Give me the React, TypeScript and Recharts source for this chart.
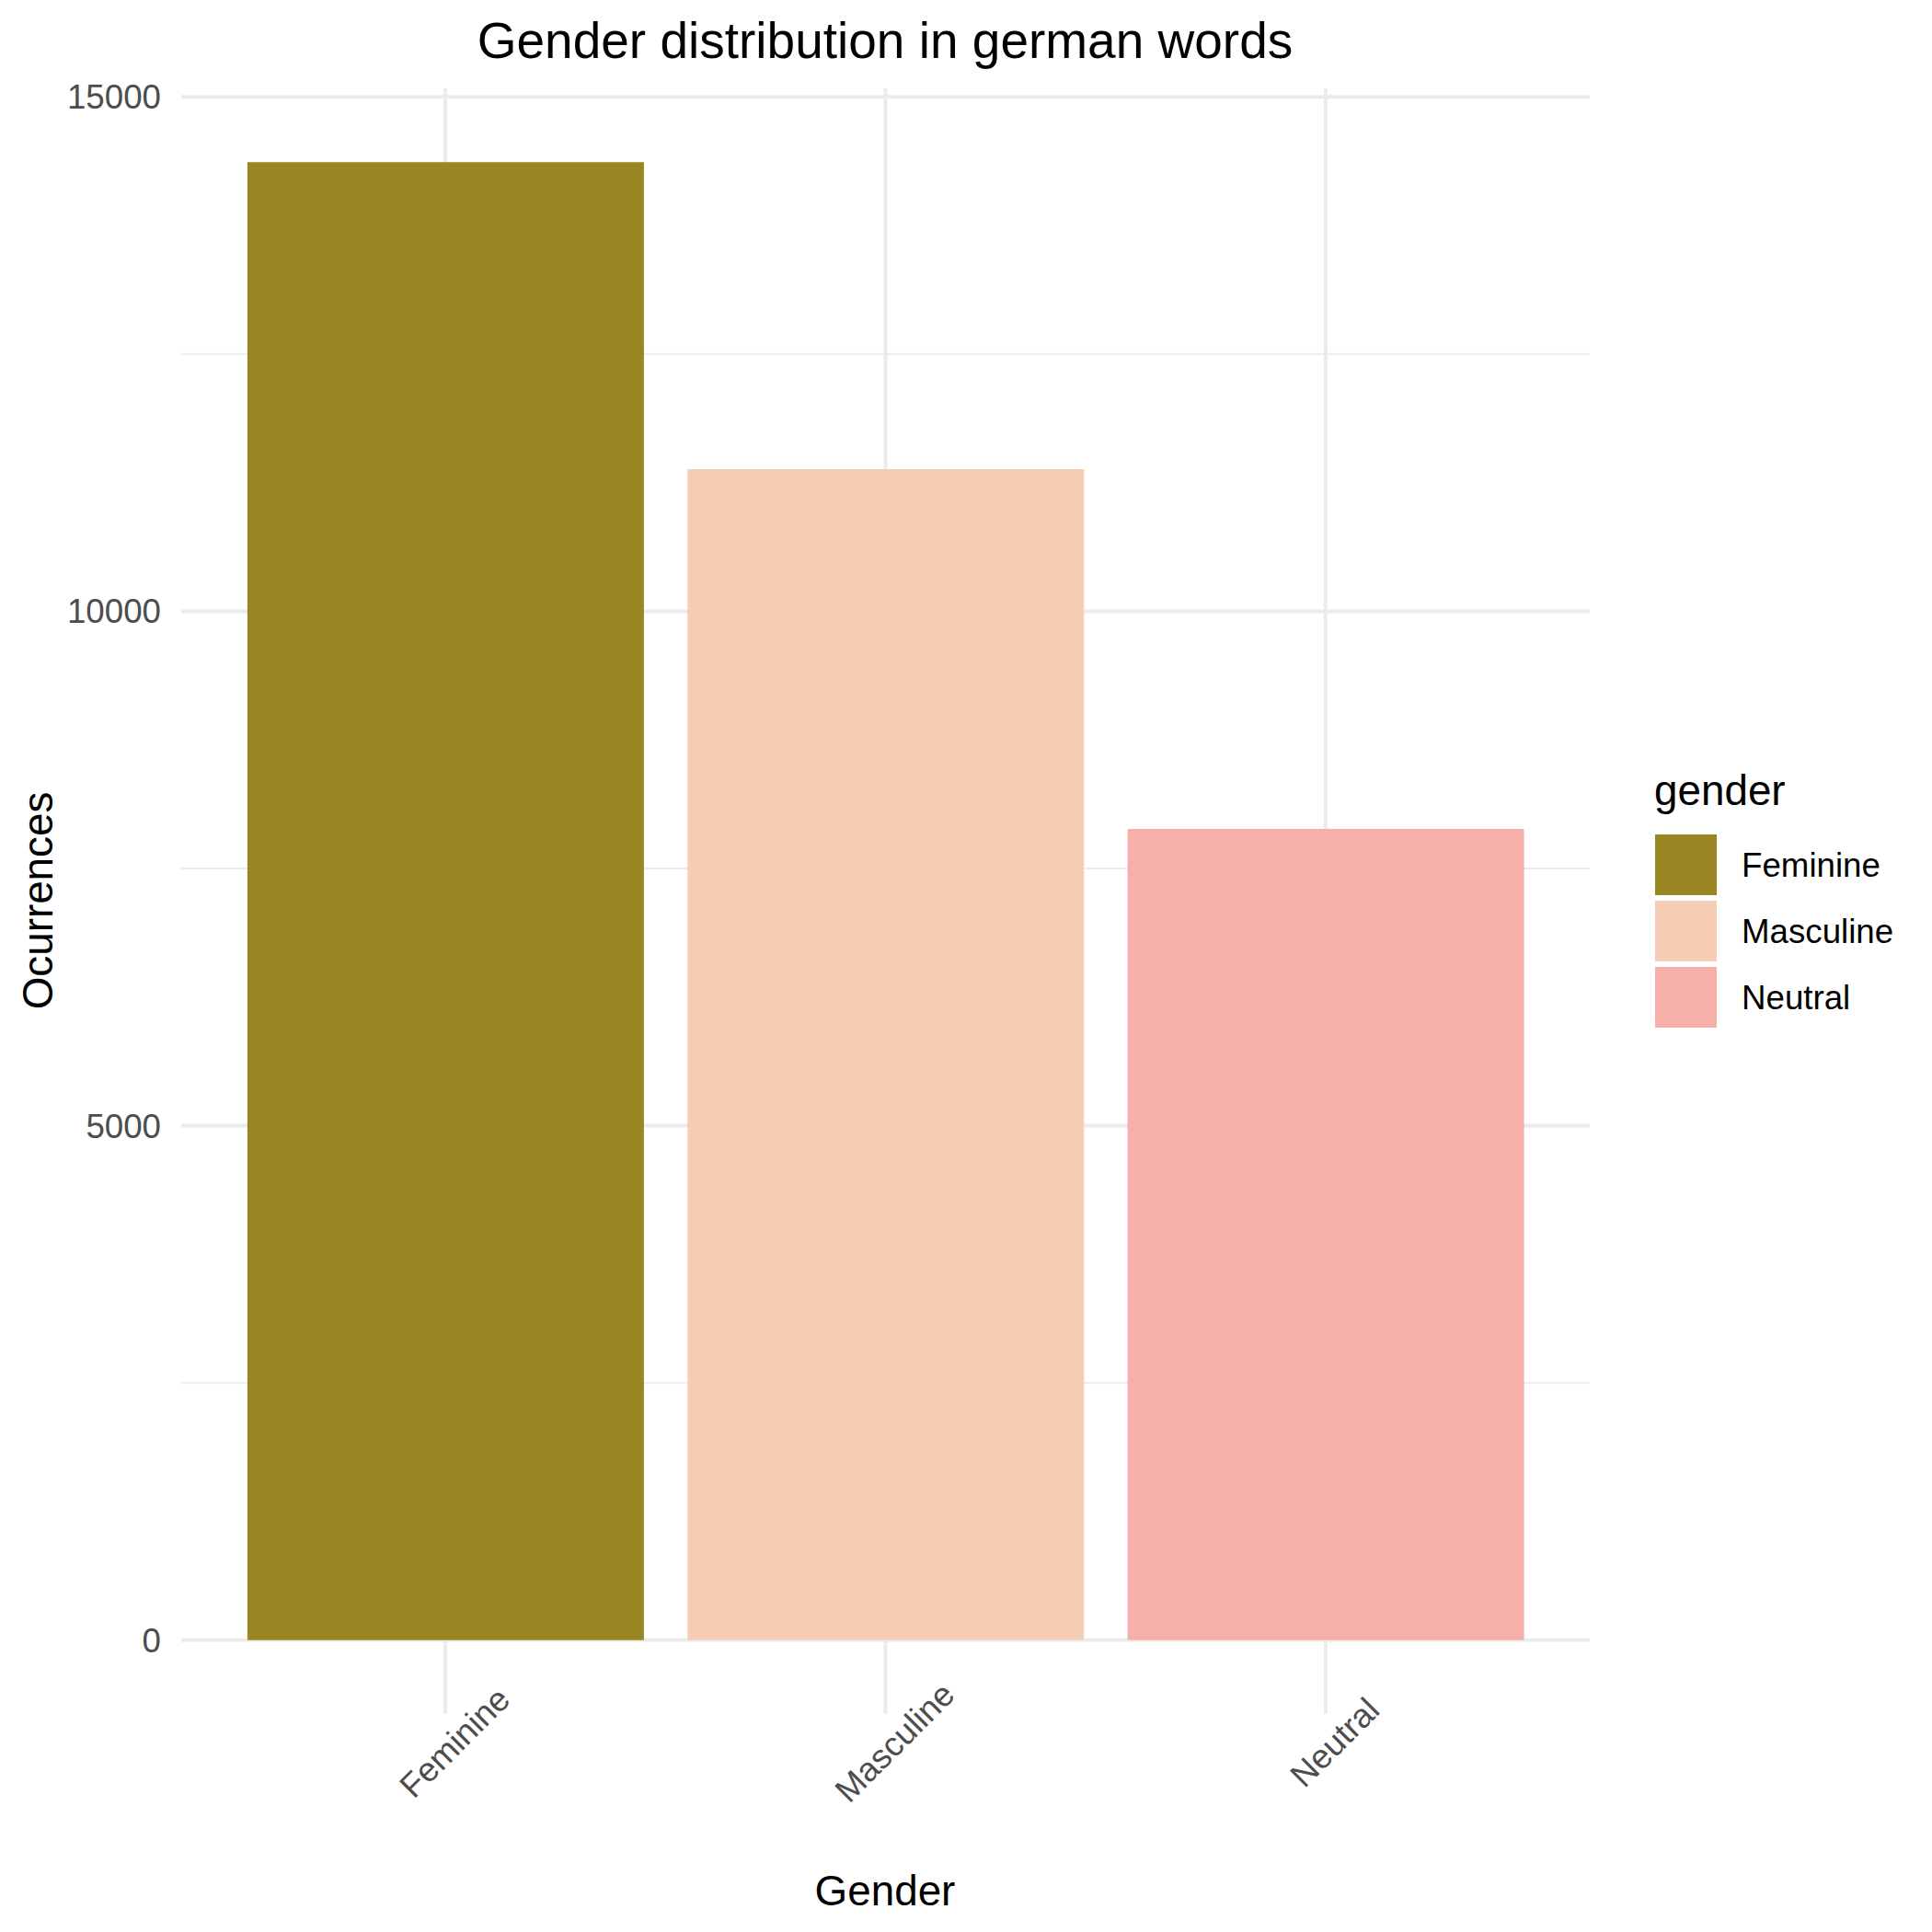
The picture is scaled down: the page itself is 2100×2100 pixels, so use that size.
import React from 'react';
import { BarChart, Bar, XAxis, YAxis, CartesianGrid, Legend } from 'recharts';

const FONT = '"Liberation Sans", Arial, sans-serif';

const genders = ['Feminine', 'Masculine', 'Neutral'];
const occurrences = [14365, 11380, 7885];
const colors = ['#9A8623', '#F5CCB4', '#F7AFA9'];
const majorTicks = [0, 5000, 10000, 15000];
const minorTicks = [2500, 7500, 12500];

// one column per gender so each bar gets its own legend entry
const data = genders.map((g, i) => ({ gender: g, [g]: occurrences[i] }));

const XTick = (props: any) => {
  const { x, y, payload } = props;
  return (
    <g transform={`translate(${x + 10},${y + 31})`}>
      <text
        transform="rotate(-45)"
        textAnchor="middle"
        dominantBaseline="central"
        fill="#4D4D4D"
        fontSize={36.7}
        fontFamily={FONT}
      >
        {payload.value}
      </text>
    </g>
  );
};

const renderLegend = (props: any) => {
  const items = props.payload || [];
  return (
    <svg width={320} height={320} style={{ display: 'block' }}>
      <text x={18} y={55} fontSize={45.8} fontFamily={FONT} fill="#000">gender</text>
      {items.map((it: any, i: number) => (
        <g key={it.value} transform={`translate(0,${87 + i * 72})`}>
          <rect x={19} y={0} width={67} height={66} fill={it.color} />
          <text x={113} y={33} dominantBaseline="central" fontSize={36.7} fontFamily={FONT} fill="#000">
            {it.value}
          </text>
        </g>
      ))}
    </svg>
  );
};

export default function App() {
  return (
    <div style={{ position: 'absolute', left: 0, top: 0, width: 2100, height: 2100, background: '#fff' }}>
      <BarChart
        width={2100}
        height={2100}
        data={data}
        margin={{ top: 96, right: 372, bottom: 137, left: 97 }}
        barCategoryGap="5%"
      >
        <CartesianGrid stroke="#EBEBEB" strokeWidth={2} vertical={false} horizontalValues={minorTicks} />
        <CartesianGrid
          stroke="#EBEBEB"
          strokeWidth={4}
          horizontalValues={majorTicks}
          verticalValues={genders}
        />
        <XAxis
          dataKey="gender"
          height={100}
          padding={{ left: 48, right: 48 }}
          axisLine={false}
          tickLine={false}
          tickSize={0}
          tickMargin={0}
          tick={<XTick />}
          interval={0}
        />
        <YAxis
          width={100}
          type="number"
          domain={[-718, 15083]}
          allowDataOverflow
          ticks={majorTicks}
          axisLine={false}
          tickLine={false}
          tickSize={0}
          tickMargin={22}
          tick={{ fill: '#4D4D4D', fontSize: 36.7, fontFamily: FONT }}
        />
        <Legend
          layout="vertical"
          align="center"
          verticalAlign="middle"
          content={renderLegend}
          wrapperStyle={{ left: 1780, top: 820, width: 320, height: 320 }}
        />
        {genders.map((g, i) => (
          <Bar key={g} dataKey={g} stackId="a" fill={colors[i]} isAnimationActive={false} />
        ))}
      </BarChart>
      <svg
        width={2100}
        height={2100}
        style={{ position: 'absolute', left: 0, top: 0, pointerEvents: 'none' }}
      >
        <text x={962} y={63} textAnchor="middle" fontSize={55} fontFamily={FONT} fill="#000">
          Gender distribution in german words
        </text>
        <text x={962} y={2071} textAnchor="middle" fontSize={45.8} fontFamily={FONT} fill="#000">
          Gender
        </text>
        <text
          transform="translate(57,979) rotate(-90)"
          textAnchor="middle"
          fontSize={45.8}
          fontFamily={FONT}
          fill="#000"
        >
          Ocurrences
        </text>
      </svg>
    </div>
  );
}
